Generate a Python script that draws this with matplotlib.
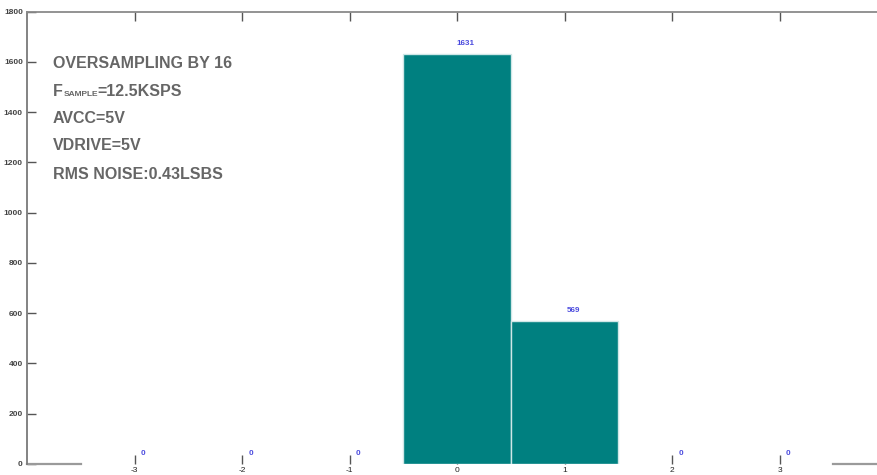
import matplotlib
matplotlib.use("Agg")
import matplotlib.pyplot as plt

# Histogram of output codes
codes = [-3, -2, -1, 0, 1, 2, 3]
counts = [0, 0, 0, 1631, 569, 0, 0]
y_ticks = [0, 200, 400, 600, 800, 1000, 1200, 1400, 1600, 1800]

info_lines = [
    "OVERSAMPLING BY 16",
    ("F", "SAMPLE", "=12.5KSPS"),
    "AVCC=5V",
    "VDRIVE=5V",
    "RMS NOISE:0.43LSBS",
]

plt.rcParams["font.family"] = ["Liberation Sans", "DejaVu Sans"]

fig = plt.figure(figsize=(8.77, 4.75), dpi=100)
ax = fig.add_axes([27 / 877, 11 / 475, 860 / 877, 452.5 / 475])

xlo, xhi = codes[0] - 1, codes[-1] + 1
ax.set_xlim(xlo, xhi)
ax.set_ylim(0, 1800)

bar_color = "#008080"
edge_colors = ["#cfe7e7" if v > 0 else "none" for v in counts]
ax.bar(codes, counts, width=1.0, color=bar_color, edgecolor=edge_colors,
       linewidth=1.0, zorder=3)

# value labels
for c, v in zip(codes, counts):
    ax.annotate(str(v), xy=(c + 0.08, v), xytext=(0, 5), textcoords="offset points",
                ha="center", va="bottom", fontsize=5.8, color="#4a4ade",
                fontweight="bold", zorder=4)

# spines
ax.spines["right"].set_visible(False)
ax.spines["bottom"].set_visible(False)
ax.spines["top"].set_color("#8a8a8a")
ax.spines["top"].set_linewidth(1.3)
ax.spines["left"].set_color("#7a7a7a")
ax.spines["left"].set_linewidth(1.3)

# baseline only outside the histogram range
span = xhi - xlo
left_end = (codes[0] - 0.5 - xlo) / span
right_start = (codes[-1] + 0.5 - xlo) / span
ax.axhline(0, xmin=0, xmax=left_end, color="#9a9a9a", linewidth=1.6, clip_on=False)
ax.axhline(0, xmin=right_start, xmax=1, color="#9a9a9a", linewidth=1.6, clip_on=False)

ax.set_xticks(codes)
ax.set_xticklabels([str(c) for c in codes])
ax.set_yticks(y_ticks)
ax.set_yticklabels([str(t) for t in y_ticks])
ax.tick_params(axis="x", direction="in", top=True, bottom=True, length=6.5,
               width=1.0, color="#555555", labelsize=6, labelcolor="#222222", pad=2)
ax.tick_params(axis="y", direction="in", left=True, length=6.5, width=1.0,
               color="#555555", labelsize=6, labelcolor="#444444", pad=3)
for lbl in ax.get_yticklabels():
    lbl.set_fontweight("bold")

# annotation block
text_color = "#666666"
fs = 11.5
x0 = 53 / 877
baselines = [68, 95.5, 123, 150.5, 179]
for line, yb in zip(info_lines, baselines):
    y = 1 - yb / 475
    if isinstance(line, tuple):
        t1 = fig.text(x0, y, line[0], fontsize=fs, fontweight="bold",
                      color=text_color, va="baseline", ha="left")
        t2 = ax.annotate(line[1], xy=(1, 0), xycoords=t1, xytext=(0.3, 0),
                         textcoords="offset points", fontsize=6,
                         fontweight="bold", color=text_color, va="bottom", ha="left")
        ax.annotate(line[2], xy=(1, 0), xycoords=t2, fontsize=fs,
                    fontweight="bold", color=text_color, va="bottom", ha="left")
    else:
        fig.text(x0, y, line, fontsize=fs, fontweight="bold",
                 color=text_color, va="baseline", ha="left")

fig.savefig("out.png", dpi=100)
